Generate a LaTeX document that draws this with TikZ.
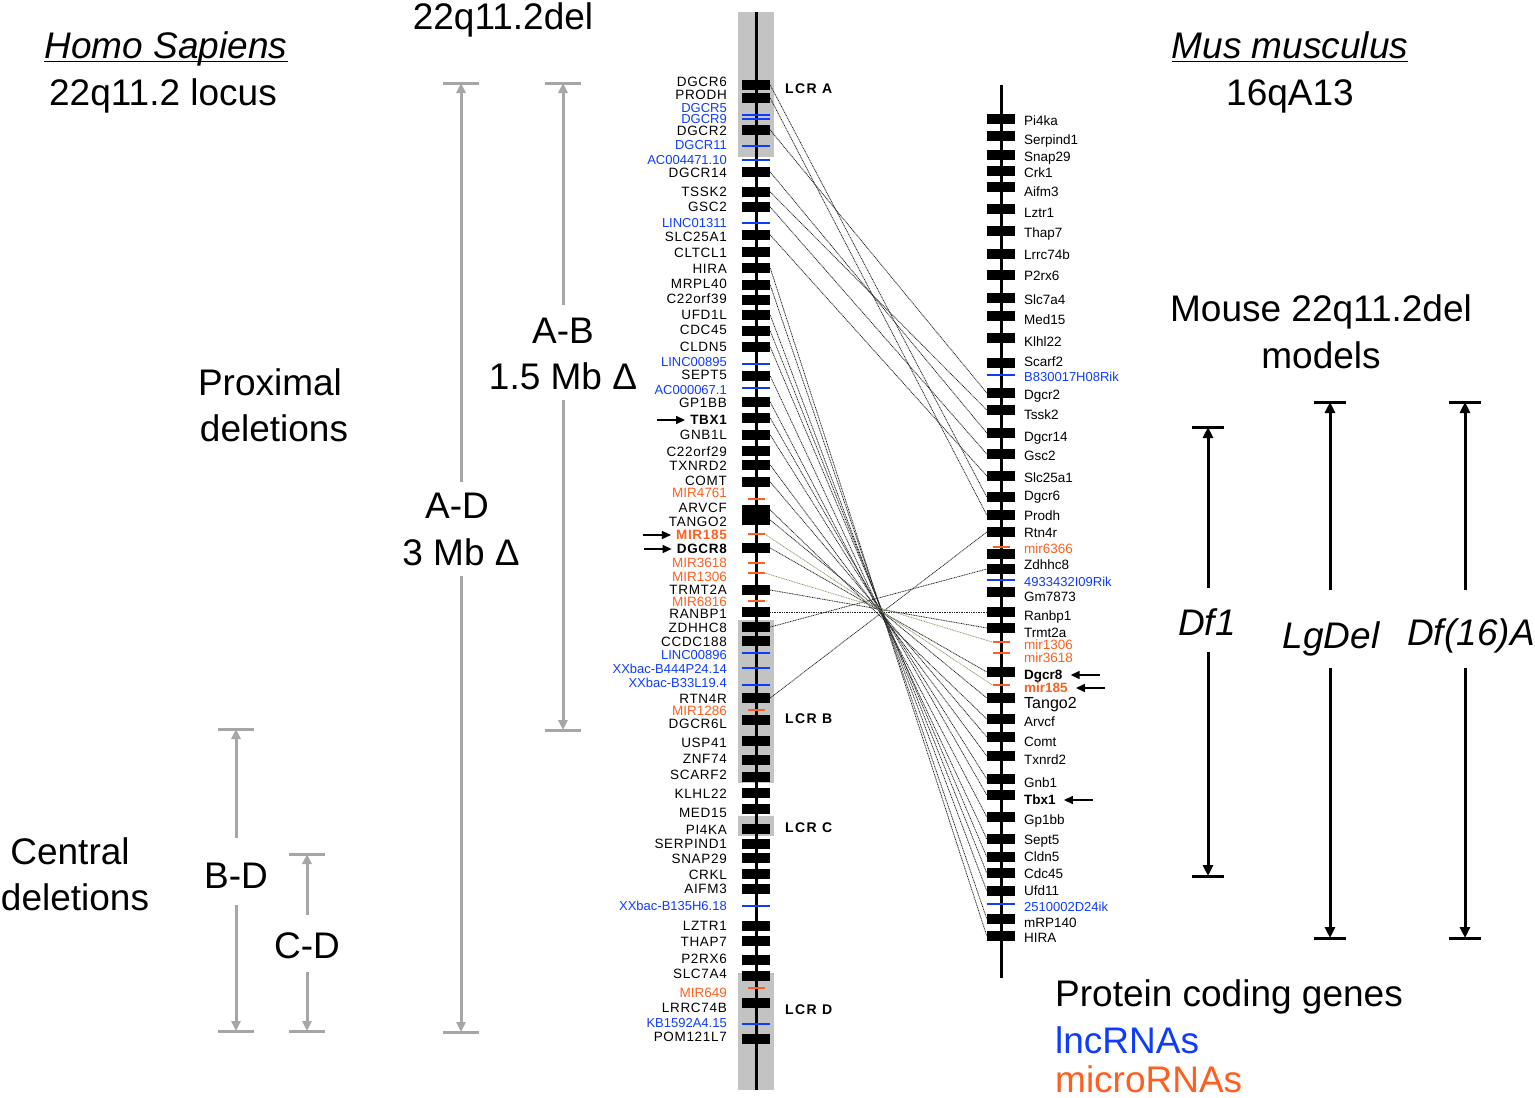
\documentclass[tikz,border=0pt]{standalone}
\usepackage{fontspec}
\setmainfont{Liberation Sans}
\newfontfamily\lcrfont[LetterSpace=10]{Liberation Sans}
\newfontfamily\genefont[LetterSpace=5]{Liberation Sans}
\usetikzlibrary{arrows.meta}

\definecolor{lncblue}{RGB}{15,60,250}
\definecolor{mirorange}{RGB}{255,95,30}
\definecolor{lcrgray}{RGB}{195,195,195}
\definecolor{bargray}{RGB}{166,166,166}
\definecolor{mirgreen}{RGB}{140,160,110}

\tikzset{
  protbox/.style={fill=black,minimum width=28pt,minimum height=9.5pt,inner sep=0pt},
  protBbox/.style={protbox},
  protTbox/.style={protbox},
  lncbox/.style={fill=lncblue,minimum width=28pt,minimum height=1.8pt,inner sep=0pt},
  mirbox/.style={fill=mirorange,minimum width=17pt,minimum height=1.8pt,inner sep=0pt},
  mirBbox/.style={mirbox},
  protlabel/.style={font=\fontsize{13.5}{13.5}\selectfont,inner sep=0pt,text height=9.5pt,text depth=0pt},
  protBlabel/.style={protlabel,font=\fontsize{13.5}{13.5}\selectfont\bfseries},
  protTlabel/.style={protlabel,font=\fontsize{16}{16}\selectfont,text height=11.5pt},
  lnclabel/.style={protlabel,text=lncblue,font=\fontsize{13}{13}\selectfont},
  mirlabel/.style={protlabel,text=mirorange},
  mirBlabel/.style={protBlabel,text=mirorange},
  % human labels are set a little wider
  hsprot/.style={font=\fontsize{13.5}{13.5}\genefont},
  hsprotB/.style={font=\fontsize{13.5}{13.5}\genefont\bfseries},
  hslnc/.style={},
  hsmir/.style={},
  hsmirB/.style={font=\fontsize{13.5}{13.5}\genefont\bfseries},
  lcr label/.style={font=\fontsize{14}{14}\lcrfont\bfseries,inner sep=0pt,text height=10pt,text depth=0pt,anchor=west},
  big/.style={font=\fontsize{37}{37}\selectfont,inner sep=0pt,text height=26.5pt,text depth=0pt},
  link/.style={dash pattern=on 1pt off 0.7pt,line width=0.8pt,black!85},
  mir link/.style={link,draw=mirgreen},
  pointer/.style={line width=1.4pt,-{Triangle[length=9pt,width=8pt]}},
  gray bar/.style={bargray,line width=3pt},
  black bar/.style={black,line width=3pt},
}

\begin{document}
\begin{tikzpicture}[x=1pt,y=-1pt]
  \useasboundingbox (0,0) rectangle (1535,1098);

  % low copy repeats
  \foreach \a/\b in {12/157,620/783,816/836,973/1090}
    \fill[lcrgray] (738,\a) rectangle (774,\b);

  % chromosomes
  \draw[line width=3pt] (756,12) -- (756,1090);
  \draw[line width=3pt] (1001,85) -- (1001,978);

  % human 22q11.2 locus
  \foreach \y/\ly/\g/\k [count=\i] in {
    85/82/DGCR6/prot,98/95/PRODH/prot,115/108/DGCR5/lnc,119/119/DGCR9/lnc,
    130/131/DGCR2/prot,146/145/DGCR11/lnc,160/160/AC004471.10/lnc,
    172/173/DGCR14/prot,192/192/TSSK2/prot,207/207/GSC2/prot,
    223/223/LINC01311/lnc,235/237/SLC25A1/prot,252/253/CLTCL1/prot,
    268/269/HIRA/prot,285/284/MRPL40/prot,300/299/C22orf39/prot,
    315/315/UFD1L/prot,331/330/CDC45/prot,347/347/CLDN5/prot,
    364/362/LINC00895/lnc,376/375/SEPT5/prot,388/390/AC000067.1/lnc,
    402/403/GP1BB/prot,418/420/TBX1/protB,435/435/GNB1L/prot,
    451/452/C22orf29/prot,465/466/TXNRD2/prot,482/481/COMT/prot,
    499/493/MIR4761/mir,510/508/ARVCF/prot,520/522/TANGO2/prot,
    534/535/MIR185/mirB,548/549/DGCR8/protB,563/563/MIR3618/mir,
    573/577/MIR1306/mir,590/590/TRMT2A/prot,601/602/MIR6816/mir,
    612/614/RANBP1/prot,627/628/ZDHHC8/prot,641/642/CCDC188/prot,
    653/655/LINC00896/lnc,668/669/XXbac-B444P24.14/lnc,
    685/683/XXbac-B33L19.4/lnc,698/699/RTN4R/prot,710/711/MIR1286/mir,
    720/724/DGCR6L/prot,741/743/USP41/prot,760/759/ZNF74/prot,
    777/775/SCARF2/prot,793/794/KLHL22/prot,809/813/MED15/prot,
    829/830/PI4KA/prot,844/844/SERPIND1/prot,858/859/SNAP29/prot,
    874/875/CRKL/prot,889/889/AIFM3/prot,906/906/XXbac-B135H6.18/lnc,
    926/926/LZTR1/prot,941/942/THAP7/prot,960/959/P2RX6/prot,
    976/974/SLC7A4/prot,988/993/MIR649/mir,1003/1008/LRRC74B/prot,
    1024/1023/KB1592A4.15/lnc,1039/1037/POM121L7/prot}
  {
    \node[\k box] (h\i) at (756,\y) {};
    \node[\k label,hs\k,anchor=east] (hl\i) at (727,\ly) {\g};
  }

  % mouse 16qA13 locus
  \foreach \y/\ly/\g/\k [count=\i] in {
    119/121/Pi4ka/prot,136/140/Serpind1/prot,155/157/Snap29/prot,
    171/173/Crk1/prot,187/192/Aifm3/prot,209/213/Lztr1/prot,
    231/233/Thap7/prot,254/255/Lrrc74b/prot,275/276/P2rx6/prot,
    298/300/Slc7a4/prot,316/320/Med15/prot,338/342/Klhl22/prot,
    363/362/Scarf2/prot,375/377/B830017H08Rik/lnc,393/395/Dgcr2/prot,
    410/415/Tssk2/prot,433/437/Dgcr14/prot,454/456/Gsc2/prot,
    476/478/Slc25a1/prot,497/496/Dgcr6/prot,515/516/Prodh/prot,
    532/533/Rtn4r/prot,547/549/mir6366/mir,569/565/Zdhhc8/prot,
    580/582/4933432I09Rik/lnc,592/597/Gm7873/prot,612/616/Ranbp1/prot,
    628/633/Trmt2a/prot,642/645/mir1306/mir,653/658/mir3618/mir,
    672/675/Dgcr8/protB,685/688/mir185/mirB,698/703/Tango2/protT,
    719/722/Arvcf/prot,737/742/Comt/prot,756/760/Txnrd2/prot,
    779/783/Gnb1/prot,795/800/Tbx1/protB,817/820/Gp1bb/prot,
    839/840/Sept5/prot,857/857/Cldn5/prot,873/874/Cdc45/prot,
    891/891/Ufd11/prot,904/907/2510002D24ik/lnc,919/923/mRP140/prot,
    936/938/HIRA/prot}
  {
    \node[\k box] (m\i) at (1001,\y) {};
    \node[\k label,anchor=west] (ml\i) at (1024,\ly) {\g};
  }
  \node[protbox] (mx) at (1001,554) {};

  % orthologues
  \foreach \a/\b in {1/20,2/21,5/15,8/17,9/16,10/18,12/19,14/46,15/45,
      17/43,18/42,19/41,21/40,23/39,24/38,25/37,27/36,28/35,30/34,31/33,
      33/31,36/28,38/27,39/24,44/22}
    \draw[link] (h\a.east) -- (m\b.west);
  \foreach \a/\b in {32/32,35/29}
    \draw[mir link] (h\a.east) -- (m\b.west);

  % genes of interest
  \foreach \n in {hl24,hl32,hl33}
    \draw[pointer] ([xshift=-33pt]\n.west) -- ([xshift=-5pt]\n.west);
  \foreach \n in {ml31,ml32,ml38}
    \draw[pointer] ([xshift=37pt]\n.east) -- ([xshift=8pt]\n.east);

  \node[lcr label] (lcrA) at (785,88) {LCR A};
  \node[lcr label] (lcrB) at (785,718) {LCR B};
  \node[lcr label] (lcrC) at (785,827) {LCR C};
  \node[lcr label] (lcrD) at (785,1009) {LCR D};

  % deletion spans
  \foreach \x/\a/\b/\c/\d in {461/83/482/576/1032,563/83/305/400/730,
      236/729/838/905/1031,307/854/915/972/1031}
  {
    \draw[gray bar,-{Triangle[length=10pt,width=9pt]}] (\x,\b) -- (\x,\a);
    \draw[gray bar,-{Triangle[length=10pt,width=9pt]}] (\x,\c) -- (\x,\d);
    \draw[gray bar] (\x-18,\a) -- (\x+18,\a);
    \draw[gray bar] (\x-18,\d) -- (\x+18,\d);
  }
  \foreach \x/\a/\b/\c/\d in {1208/427/588/652/876,1330/402/590/668/938,
      1465/402/590/668/938}
  {
    \draw[black bar,-{Triangle[length=11pt,width=10pt]}] (\x,\b) -- (\x,\a);
    \draw[black bar,-{Triangle[length=11pt,width=10pt]}] (\x,\c) -- (\x,\d);
    \draw[black bar] (\x-16,\a) -- (\x+16,\a);
    \draw[black bar] (\x-16,\d) -- (\x+16,\d);
  }

  % titles and labels
  \node[big] (hdel) at (503,16) {22q11.2del};
  \node[big] (homo) at (166,45) {\itshape Homo Sapiens};
  \draw[line width=1.6pt] ([yshift=-3pt]homo.south west) -- ([yshift=-3pt]homo.south east);
  \node[big] (hlocus) at (163,92) {22q11.2 locus};
  \node[big] (mus) at (1290,45) {\itshape Mus musculus};
  \draw[line width=1.6pt] ([yshift=-3pt]mus.south west) -- ([yshift=-3pt]mus.south east);
  \node[big] (mlocus) at (1290,92) {16qA13};
  \node[big] (prox1) at (270,382) {Proximal};
  \node[big] (prox2) at (274,428) {deletions};
  \node[big] (cent1) at (70,851) {Central};
  \node[big] (cent2) at (75,897) {deletions};
  \node[big] (ab1) at (563,330) {A-B};
  \node[big] (ab2) at (563,376) {1.5 Mb Δ};
  \node[big] (ad1) at (457,505) {A-D};
  \node[big] (ad2) at (461,552) {3 Mb Δ};
  \node[big] (bd) at (236,875) {B-D};
  \node[big] (cd) at (307,945) {C-D};
  \node[big] (mod1) at (1321,308) {Mouse 22q11.2del};
  \node[big] (mod2) at (1321,355) {models};
  \node[big] (df1) at (1207,622) {\itshape Df1};
  \node[big] (lgdel) at (1331,635) {\itshape LgDel};
  \node[big] (df16) at (1471,632) {\itshape Df(16)A};

  % legend
  \node[big,anchor=west] (legp) at (1055,993) {Protein coding genes};
  \node[big,anchor=west,text=lncblue] (legl) at (1055,1040) {lncRNAs};
  \node[big,anchor=west,text=mirorange] (legm) at (1055,1079) {microRNAs};
\end{tikzpicture}
\end{document}
